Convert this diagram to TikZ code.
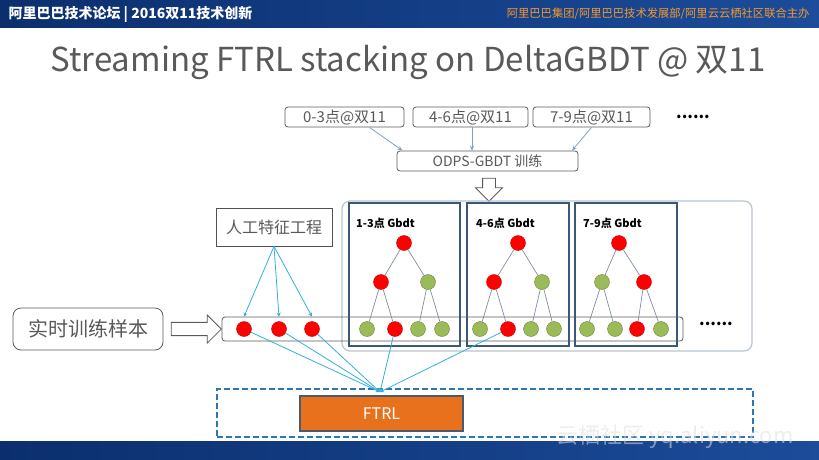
\documentclass[tikz,border=0pt]{standalone}
\usepackage{fontspec}
\setmainfont{Noto Sans CJK SC}
\usepackage{tikz}
\usetikzlibrary{
  shapes.geometric, shapes.arrows,
  arrows.meta,
  positioning, calc
}
\usepackage{xcolor}
\definecolor{bandblue}{HTML}{0B2F6E}
\definecolor{bandlight}{HTML}{1C4C9A}
\definecolor{headorange}{HTML}{F39A2E}
\definecolor{titlegray}{HTML}{595959}
\definecolor{boxgray}{HTML}{5A5A5A}
\definecolor{frameblue}{HTML}{B7C3D3}
\definecolor{treeblue}{HTML}{3B5878}
\definecolor{edgegray}{HTML}{7F8CA3}
\definecolor{leafred}{HTML}{FF0000}
\definecolor{leafgreen}{HTML}{9BBB59}
\definecolor{feedcyan}{HTML}{35AEDB}
\definecolor{odpsblue}{HTML}{7FA0CC}
\definecolor{ftrlorange}{HTML}{E8711E}
\definecolor{ftrlframe}{HTML}{4A5A70}
\definecolor{dashblue}{HTML}{2E75B6}

\begin{document}
\begin{tikzpicture}[x=1pt, y=-1pt,
  slot/.style={draw=boxgray, line width=0.8pt, rounded corners=3pt, inner sep=0pt, minimum height=20pt,
               text=titlegray, font=\fontsize{15}{17}\selectfont},
  tbox/.style={draw=treeblue, line width=1.6pt, inner sep=0pt, minimum height=143pt},
  glbl/.style={font=\fontsize{11}{13}\selectfont\bfseries, inner sep=0pt, anchor=west},
  rnode/.style={circle, fill=leafred, draw=leafred!80!black, inner sep=0pt, minimum size=15pt},
  gnode/.style={circle, fill=leafgreen, draw=leafgreen!70!black, inner sep=0pt, minimum size=15pt},
  edge/.style={draw=edgegray, line width=0.7pt},
  feed/.style={draw=feedcyan, line width=0.8pt, -{Stealth[length=4pt,width=4pt]}},
  hollow/.style={single arrow, draw=titlegray, fill=white, line width=0.8pt,
                 inner xsep=0pt, inner ysep=6pt}
]
\useasboundingbox (0,0) rectangle (819,460);

% Slide frame
\shade[left color=bandblue, right color=bandlight] (0,0) rectangle (819,28);
\shade[left color=bandblue, right color=bandlight] (0,441) rectangle (819,460);
\node[anchor=west, text=white, font=\fontsize{14}{16}\selectfont\bfseries] (head) at (5,14)
  {阿里巴巴技术论坛 | 2016双11技术创新};
\node[anchor=east, text=headorange, font=\fontsize{11.3}{13}\selectfont] (host) at (813,14)
  {阿里巴巴集团/阿里巴巴技术发展部/阿里云云栖社区联合主办};
\node[text=titlegray, font=\fontsize{33}{36}\selectfont] (title) at (408,62)
  {Streaming FTRL stacking on DeltaGBDT @ 双11};

% Daily slices
\node[slot, minimum width=119pt] (p1) at (344.5,117) {0-3点@双11};
\node[slot, minimum width=115pt] (p2) at (470.5,117) {4-6点@双11};
\node[slot, minimum width=117pt] (p3) at (591.5,117) {7-9点@双11};
\node[font=\fontsize{16}{18}\selectfont\bfseries, inner sep=0pt] (more) at (693,117) {......};
\node[slot, minimum width=181pt, font=\fontsize{14}{16}\selectfont] (odps) at (487.5,161) {ODPS-GBDT 训练};

\draw[draw=odpsblue, line width=0.8pt, -{Stealth[length=5pt,width=4pt]}]
  ([xshift=25pt]p1.south) -- ([xshift=-85pt]odps.north);
\draw[draw=odpsblue, line width=0.8pt, -{Stealth[length=5pt,width=4pt]}]
  ([xshift=1.5pt]p2.south) -- ([xshift=1.5pt]p2.south |- odps.north);
\draw[draw=odpsblue, line width=0.8pt, -{Stealth[length=5pt,width=4pt]}]
  (p3.south) -- ([xshift=84.5pt]odps.north);

\node[hollow, rotate=-90, minimum height=23pt, minimum width=22pt] (down) at (489,186.5) {};

% Gbdt frame
\node[draw=frameblue, line width=1.2pt, rounded corners=8pt, inner sep=0pt,
      minimum width=410pt, minimum height=150pt] (gbdt) at (547,276) {};
\node[draw=boxgray, line width=0.8pt, rounded corners=3pt, inner sep=0pt,
      minimum width=461pt, minimum height=24pt] (row) at (452.5,329) {};
\node[tbox, minimum width=111pt] (tb1) at (404.5,274.5) {};
\node[tbox, minimum width=102pt] (tb2) at (518,274.5) {};
\node[tbox, minimum width=102pt] (tb3) at (626,274.5) {};
\node[glbl] (g1) at (356,223) {1-3点 Gbdt};
\node[glbl] (g2) at (476,223) {4-6点 Gbdt};
\node[glbl] (g3) at (583,223) {7-9点 Gbdt};
\node[font=\fontsize{16}{18}\selectfont\bfseries, inner sep=0pt] (tail) at (716,324) {......};

% Tree 1
\node[rnode] (t1a) at (404,243) {};
\node[rnode] (t1b) at (381,282) {};
\node[gnode] (t1c) at (428,282) {};
\node[gnode] (t1d) at (367,329) {};
\node[rnode] (t1e) at (395,329) {};
\node[gnode] (t1f) at (418,329) {};
\node[gnode] (t1g) at (442,329) {};

% Tree 2
\node[rnode] (t2a) at (518,243) {};
\node[rnode] (t2b) at (494,282) {};
\node[gnode] (t2c) at (542,282) {};
\node[gnode] (t2d) at (480,329) {};
\node[rnode] (t2e) at (508,329) {};
\node[gnode] (t2f) at (531,329) {};
\node[gnode] (t2g) at (554,329) {};

% Tree 3
\node[rnode] (t3a) at (619,243) {};
\node[gnode] (t3b) at (602,282) {};
\node[rnode] (t3c) at (644,282) {};
\node[gnode] (t3d) at (587,329) {};
\node[gnode] (t3e) at (615,329) {};
\node[rnode] (t3f) at (637,329) {};
\node[gnode] (t3g) at (661,329) {};

\draw[edge] (t1a) -- (t1b); \draw[edge] (t1a) -- (t1c);
\draw[edge] (t1b) -- (t1d); \draw[edge] (t1b) -- (t1e);
\draw[edge] (t1c) -- (t1f); \draw[edge] (t1c) -- (t1g);
\draw[edge] (t2a) -- (t2b); \draw[edge] (t2a) -- (t2c);
\draw[edge] (t2b) -- (t2d); \draw[edge] (t2b) -- (t2e);
\draw[edge] (t2c) -- (t2f); \draw[edge] (t2c) -- (t2g);
\draw[edge] (t3a) -- (t3b); \draw[edge] (t3a) -- (t3c);
\draw[edge] (t3b) -- (t3d); \draw[edge] (t3b) -- (t3e);
\draw[edge] (t3c) -- (t3f); \draw[edge] (t3c) -- (t3g);

% Samples
\node[draw=boxgray, line width=0.8pt, rounded corners=8pt, inner sep=0pt, minimum width=150pt, minimum height=42pt,
      text=titlegray, font=\fontsize{20}{22}\selectfont] (sample) at (88,329) {实时训练样本};
\node[hollow, minimum height=50pt, minimum width=28pt] (push) at (193,329) {};
\node[draw=boxgray!90!black, line width=0.8pt, inner sep=0pt, minimum width=116pt, minimum height=38pt,
      text=titlegray, font=\fontsize{16}{18}\selectfont] (feat) at (274,227) {人工特征工程};
\node[rnode] (s1) at (244,329) {};
\node[rnode] (s2) at (279,329) {};
\node[rnode] (s3) at (312,329) {};

\draw[feed] (feat.south) -- (s1 |- row.north);
\draw[feed] (feat.south) -- (s2 |- row.north);
\draw[feed] (feat.south) -- (s3 |- row.north);

% FTRL
\node[draw=dashblue, line width=1.8pt, dash pattern=on 6pt off 3pt, inner sep=0pt,
      minimum width=536pt, minimum height=48pt] (stack) at (485,413) {};
\node[fill=ftrlorange, draw=ftrlframe, line width=1.5pt, inner sep=0pt, minimum width=163pt,
      minimum height=35pt, text=white, font=\fontsize{16}{18}\selectfont] (ftrl) at (381.5,413.5) {FTRL};
\coordinate (join) at (380,392);

\draw[feed] (s1) -- (join);
\draw[feed] (s2) -- (join);
\draw[feed] (s3) -- (join);
\draw[feed] (t1e) -- (join);
\draw[feed] (t2e) -- (join);

\node[text=white!75!gray, text opacity=0.55, font=\fontsize{22}{24}\selectfont] (mark) at (675,437)
  {云栖社区 yq.aliyun.com};

\end{tikzpicture}
\end{document}
